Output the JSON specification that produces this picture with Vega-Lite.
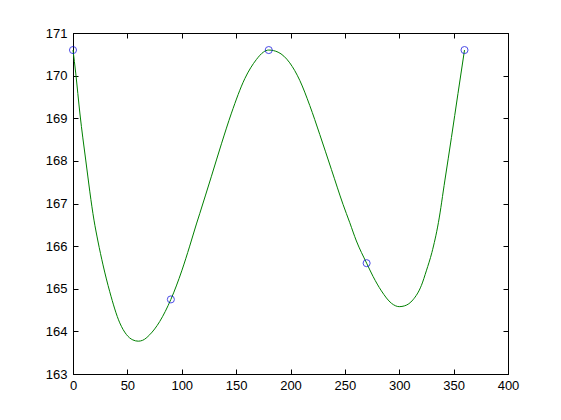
{
  "$schema": "https://vega.github.io/schema/vega-lite/v6.json",
  "width": 435,
  "height": 341,
  "autosize": {"type": "none"},
  "padding": {"left": 73, "top": 33, "right": 53, "bottom": 46},
  "background": "white",
  "config": {
    "view": {"stroke": "black", "strokeWidth": 1},
    "axis": {
      "grid": false,
      "domainColor": "black",
      "domainWidth": 1,
      "tickColor": "black",
      "tickWidth": 1,
      "tickSize": -5,
      "labelColor": "black",
      "labelFont": "Liberation Sans",
      "labelFontSize": 13,
      "labelFlush": false,
      "labelOverlap": false,
      "title": null
    }
  },
  "datasets": {
    "curve": [
      {"x": 0, "y": 170.6}, {"x": 2.5, "y": 170.06}, {"x": 6.4, "y": 169.1}, {"x": 11.7, "y": 168.02},
      {"x": 19.3, "y": 166.61}, {"x": 22.9, "y": 166.12}, {"x": 27.6, "y": 165.56}, {"x": 33.8, "y": 164.93},
      {"x": 43, "y": 164.2}, {"x": 49, "y": 163.93}, {"x": 55, "y": 163.8}, {"x": 60, "y": 163.77},
      {"x": 64, "y": 163.79}, {"x": 70.5, "y": 163.92}, {"x": 79.7, "y": 164.23}, {"x": 90, "y": 164.75},
      {"x": 100, "y": 165.42}, {"x": 107.3, "y": 166.0}, {"x": 113.5, "y": 166.52}, {"x": 116.5, "y": 166.76},
      {"x": 127.3, "y": 167.64}, {"x": 136.5, "y": 168.4}, {"x": 145.7, "y": 169.12}, {"x": 158, "y": 169.93},
      {"x": 168.7, "y": 170.38}, {"x": 175, "y": 170.55}, {"x": 180, "y": 170.6}, {"x": 188.6, "y": 170.55},
      {"x": 199.3, "y": 170.3}, {"x": 208.5, "y": 169.89}, {"x": 217.7, "y": 169.3}, {"x": 226.9, "y": 168.62},
      {"x": 237.6, "y": 167.8}, {"x": 248.3, "y": 166.98}, {"x": 254.5, "y": 166.55}, {"x": 260.6, "y": 166.12},
      {"x": 270, "y": 165.6}, {"x": 275.9, "y": 165.29}, {"x": 283.6, "y": 164.95}, {"x": 292.8, "y": 164.66},
      {"x": 300, "y": 164.58}, {"x": 305, "y": 164.6}, {"x": 312.6, "y": 164.74}, {"x": 320.4, "y": 165.08},
      {"x": 324.9, "y": 165.42}, {"x": 330, "y": 165.85}, {"x": 336, "y": 166.55}, {"x": 342, "y": 167.55},
      {"x": 348, "y": 168.55}, {"x": 354, "y": 169.58}, {"x": 360, "y": 170.6}
    ],
    "pts": [
      {"x": 0, "y": 170.6}, {"x": 90, "y": 164.75}, {"x": 180, "y": 170.6}, {"x": 270, "y": 165.6}, {"x": 360, "y": 170.6}
    ]
  },
  "layer": [
    {
      "data": {"name": "curve"},
      "mark": {"type": "line", "color": "#008000", "strokeWidth": 1, "interpolate": "monotone"},
      "encoding": {
        "x": {"field": "x", "type": "quantitative", "scale": {"domain": [0, 400], "nice": false, "zero": false},
              "axis": {"orient": "bottom", "values": [0, 50, 100, 150, 200, 250, 300, 350, 400], "labelPadding": 10}},
        "y": {"field": "y", "type": "quantitative", "scale": {"domain": [163, 171], "nice": false, "zero": false},
              "axis": {"orient": "left", "values": [163, 164, 165, 166, 167, 168, 169, 170, 171], "labelPadding": 11}}
      }
    },
    {
      "data": {"name": "pts"},
      "mark": {"type": "point", "shape": "circle", "filled": false, "color": "#0000dd", "size": 50, "strokeWidth": 1, "clip": false},
      "encoding": {
        "x": {"field": "x", "type": "quantitative",
              "axis": {"orient": "top", "labels": false, "values": [0, 50, 100, 150, 200, 250, 300, 350, 400]}},
        "y": {"field": "y", "type": "quantitative",
              "axis": {"orient": "right", "labels": false, "values": [163, 164, 165, 166, 167, 168, 169, 170, 171]}}
      }
    }
  ]
}
